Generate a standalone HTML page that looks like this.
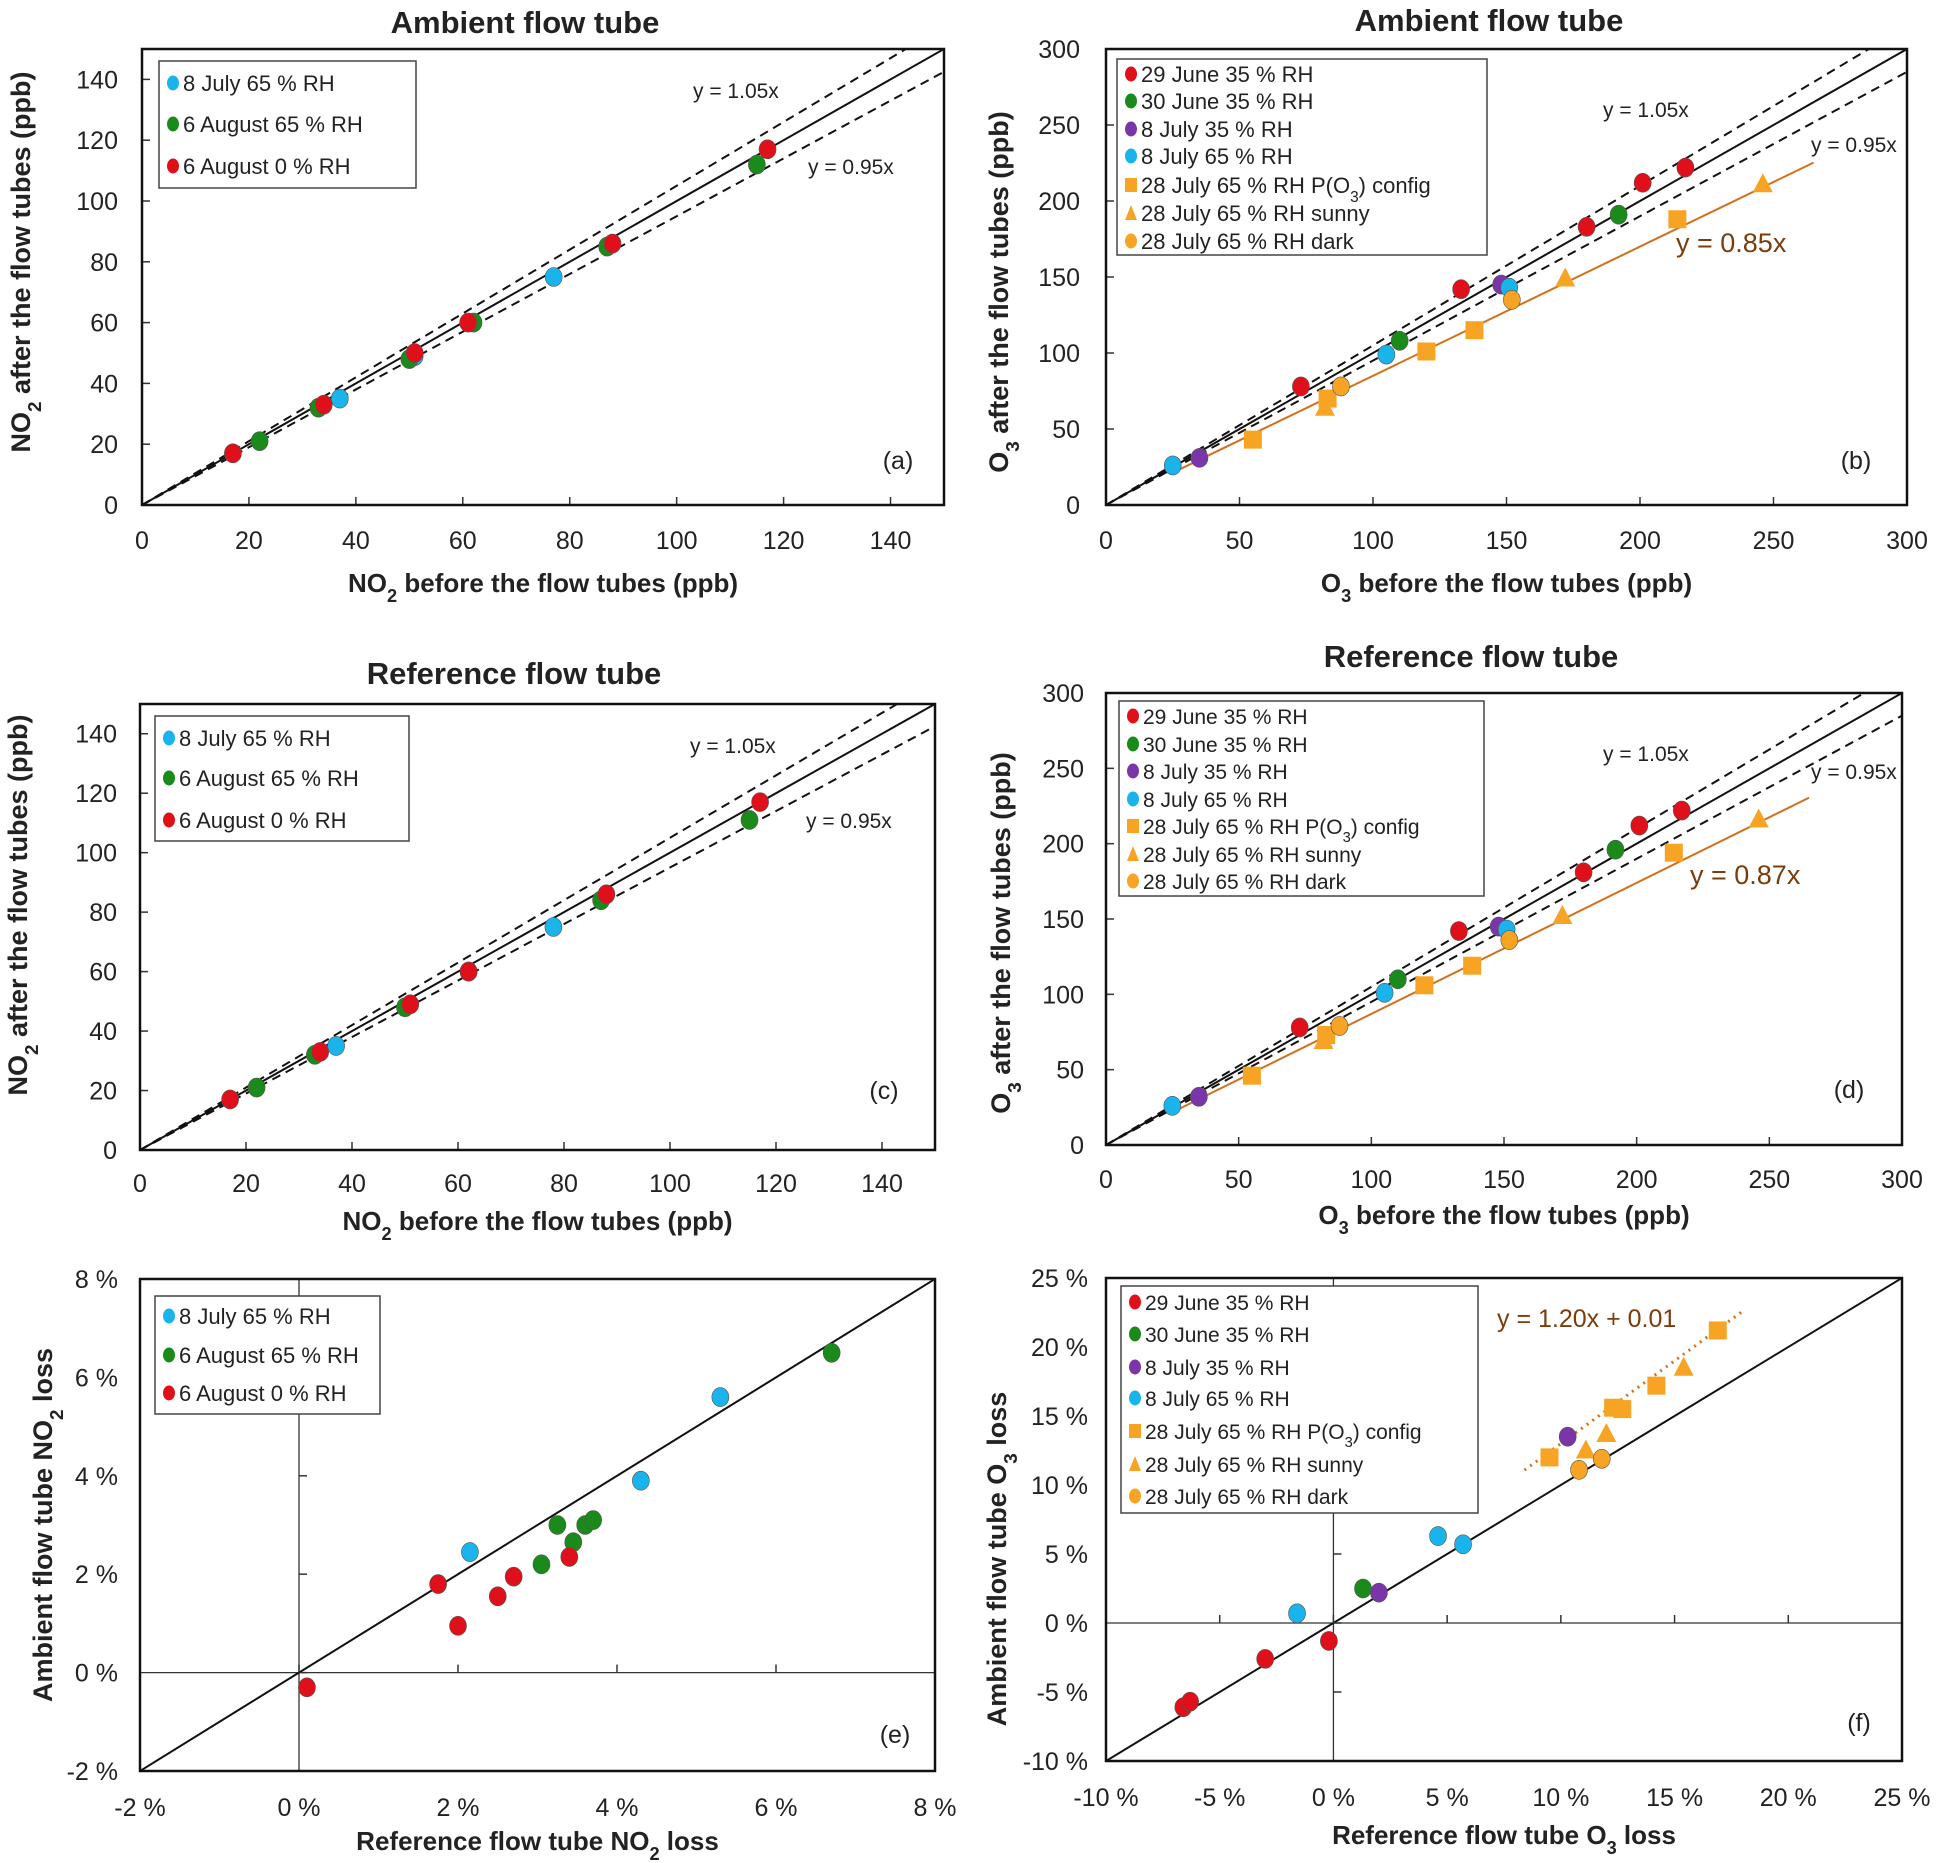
<!DOCTYPE html>
<html><head><meta charset="utf-8"><style>
html,body{margin:0;padding:0;background:#fff;}
svg{display:block;font-family:"Liberation Sans",Arial,sans-serif;}
</style></head><body>
<svg id="fig" width="1939" height="1863" viewBox="0 0 1939 1863" xmlns="http://www.w3.org/2000/svg"></svg>
<script>
// ---------- DATA ----------
// Panel a (Ambient NO2)
const aBlueX=[37,51,77], aBlueY=[35,49,75];
const aGreenX=[22,33,50,62,87,115], aGreenY=[21,32,48,60,85,112];
const aRedX=[17,34,51,61,88,117], aRedY=[17,33,50,60,86,117];
// Panel c (Reference NO2)
const cBlueX=[37,78], cBlueY=[35,75];
const cGreenX=[22,33,50,62,87,115], cGreenY=[21,32,48,60,84,111];
const cRedX=[17,34,51,62,88,117], cRedY=[17,33,49,60,86,117];
// Panel b (Ambient O3)
const bRedX=[73,133,180,201,217], bRedY=[78,142,183,212,222];
const bGreenX=[110,192], bGreenY=[108,191];
const bPurpleX=[35,148], bPurpleY=[31,145];
const bBlueX=[25,105,151], bBlueY=[26,99,143];
const bSqX=[55,83,120,138,214], bSqY=[43,70,101,115,188];
const bTriX=[82,172,246], bTriY=[64,149,211];
const bOrX=[88,152], bOrY=[78,135];
const bSlope=0.85;
// Panel d (Reference O3)
const dRedX=[73,133,180,201,217], dRedY=[78,142,181,212,222];
const dGreenX=[110,192], dGreenY=[110,196];
const dPurpleX=[35,148], dPurpleY=[32,145];
const dBlueX=[25,105,151], dBlueY=[26,101,143];
const dSqX=[55,83,120,138,214], dSqY=[46,73,106,119,194];
const dTriX=[82,172,246], dTriY=[69,152,216];
const dOrX=[88,152], dOrY=[79,136];
const dSlope=0.87;
// Panel e (NO2 loss %)
const eRedX=[0.1,1.75,2.0,2.5,2.7,3.4], eRedY=[-0.3,1.8,0.95,1.55,1.95,2.35];
const eGreenX=[3.05,3.25,3.45,3.6,3.7,6.7], eGreenY=[2.2,3.0,2.65,3.0,3.1,6.5];
const eBlueX=[2.15,4.3,5.3], eBlueY=[2.45,3.9,5.6];
// Panel f (O3 loss %)
const fRedX=[-6.6,-6.3,-3.0,-0.2], fRedY=[-6.1,-5.7,-2.6,-1.3];
const fGreenX=[1.3], fGreenY=[2.5];
const fPurpleX=[2.0,10.3], fPurpleY=[2.2,13.5];
const fBlueX=[-1.6,4.6,5.7], fBlueY=[0.7,6.3,5.7];
const fSqX=[9.5,12.3,12.7,14.2,16.9], fSqY=[12.0,15.6,15.5,17.2,21.2];
const fTriX=[11.1,12.0,15.4], fTriY=[12.5,13.7,18.5];
const fOrX=[10.8,11.8], fOrY=[11.1,11.9];
const fFitSlope=1.20, fFitIcept=1.0;
// tick labels
const no2Ticks=[0,20,40,60,80,100,120,140];
const o3Ticks=[0,50,100,150,200,250,300];
const eTicks=[-2,0,2,4,6,8];
const fTicks=[-10,-5,0,5,10,15,20,25];

// ---------- DRAWING ----------
const NS="http://www.w3.org/2000/svg";
const svg=document.getElementById('fig');
const C={red:'#e0101a',green:'#1a8a1a',blue:'#19b4ec',purple:'#7a35a8',orange:'#f7a425',line:'#d2701c',brown:'#7b3c0c'};
function el(tag,attrs,parent){const e=document.createElementNS(NS,tag);for(const k in attrs)e.setAttribute(k,attrs[k]);(parent||svg).appendChild(e);return e;}
function txt(str,x,y,size,attrs,parent){const t=el('text',Object.assign({x:x,y:y,'font-size':size,fill:'#222'},attrs||{}),parent);t.textContent=str;return t;}

function makePanel(p){
  const g=el('g',{});
  
  
  const sx=v=>p.L+(v-p.min)/(p.max-p.min)*(p.R-p.L);
  const sy=v=>p.B-(v-p.min)/(p.max-p.min)*(p.B-p.T);
  const cid='clip'+p.name;
  const cp=el('clipPath',{id:cid},g);el('rect',{x:p.L,y:p.T,width:p.R-p.L,height:p.B-p.T},cp);
  const inner=el('g',{'clip-path':'url(#'+cid+')'},g);
  if(p.cross){
    const zx=el('line',{x1:sx(0),x2:sx(0),y1:p.T,y2:p.B,stroke:'#333','stroke-width':1.3},inner);
    
    const zy=el('line',{x1:p.L,x2:p.R,y1:sy(0),y2:sy(0),stroke:'#333','stroke-width':1.3},inner);
    
  }
  p.ticks.forEach(v=>{
    const ay=p.cross?sy(0):p.B, ax=p.cross?sx(0):p.L;
    el('line',{x1:sx(v),x2:sx(v),y1:ay,y2:ay-8,stroke:'#333','stroke-width':1.5},g);
    el('line',{x1:ax,x2:ax+8,y1:sy(v),y2:sy(v),stroke:'#333','stroke-width':1.5},g);
    const xl=txt(p.fmt(v),sx(v),p.xTickY,25,{'text-anchor':'middle'},g);
    
    const yl=txt(p.fmt(v),p.yTickR,sy(v)+9,25,{'text-anchor':'end'},g);
    
  });
  const lines=p.lines||[];
  lines.forEach(ln=>{
    const l=el('line',{x1:sx(ln.x0),y1:sy(ln.a*ln.x0+ln.b),x2:sx(ln.x1),y2:sy(ln.a*ln.x1+ln.b),stroke:ln.c,'stroke-width':ln.w||2,'stroke-dasharray':ln.dash||'none'},inner);
    
  });
  p.series.forEach(s=>{
    s.x.forEach((xv,i)=>{
      const X=sx(xv),Y=sy(s.y[i]);let m;
      if(s.shape==='sq') m=el('rect',{x:X-9,y:Y-9,width:18,height:18,fill:s.c},g);
      else if(s.shape==='tri') m=el('polygon',{points:`${X},${Y-11} ${X-10},${Y+8} ${X+10},${Y+8}`,fill:s.c},g);
      else m=el('ellipse',{cx:X,cy:Y,rx:8.5,ry:9.5,fill:s.c,stroke:'#555','stroke-width':0.6},g);
      
      
    });
  });
  const box=el('rect',{x:p.L,y:p.T,width:p.R-p.L,height:p.B-p.T,fill:'none',stroke:'#111','stroke-width':2.5},g);
  
  const lg=el('g',{},g);
  
  el('rect',{x:p.leg.x,y:p.leg.y,width:p.leg.w,height:p.leg.h,fill:'#fff',stroke:'#444','stroke-width':1.5},lg);
  p.leg.items.forEach((it,i)=>{
    const y=p.leg.ys[i], mx=p.leg.x+14;
    const eg=el('g',{},lg);
    
    if(it.shape==='sq') el('rect',{x:mx-6,y:y-7,width:12,height:14,fill:it.c},eg);
    else if(it.shape==='tri') el('polygon',{points:`${mx},${y-8} ${mx-6},${y+7} ${mx+6},${y+7}`,fill:it.c},eg);
    else el('ellipse',{cx:mx,cy:y,rx:6,ry:7.5,fill:it.c},eg);
    const t=txt('',mx+10,y+8,p.leg.fs,{},eg);
    t.innerHTML=it.label;
  });
  if(p.title){const t=txt(p.title,p.titleX,p.titleY,31,{'text-anchor':'middle','font-weight':'bold'},g);}
  const xt=txt('',(p.L+p.R)/2,p.xTitleY,26,{'text-anchor':'middle','font-weight':'bold'},g);xt.innerHTML=p.xTitle;
  
  const yt=txt('',0,0,27,{'text-anchor':'middle','font-weight':'bold','transform':`translate(${p.yTitleX},${p.yTitleCY}) rotate(-90)`},g);yt.innerHTML=p.yTitle;
  
  const pl=txt(p.letter,p.letterX,p.letterY,25,{'text-anchor':'middle'},g);
  
  (p.notes||[]).forEach(n=>{const t=txt(n.t,n.x,n.y,n.s,{fill:n.c||'#222'},g);});
}
const sub=s=>`<tspan baseline-shift="sub" font-size="70%">${s}</tspan>`;
const no2Leg=[{c:C.blue,label:'8 July 65 % RH'},{c:C.green,label:'6 August 65 % RH'},{c:C.red,label:'6 August 0 % RH'}];
const o3Leg=[{c:C.red,label:'29 June 35 % RH'},{c:C.green,label:'30 June 35 % RH'},{c:C.purple,label:'8 July 35 % RH'},{c:C.blue,label:'8 July 65 % RH'},{c:C.orange,shape:'sq',label:'28 July 65 % RH P(O'+sub('3')+') config'},{c:C.orange,shape:'tri',label:'28 July 65 % RH sunny'},{c:C.orange,label:'28 July 65 % RH dark'}];
const stdLines=(mx)=>[{name:'one-to-one-line',a:1,b:0,x0:0,x1:mx,c:'#111',w:2},{name:'upper-5pct-line',a:1.05,b:0,x0:0,x1:mx,c:'#111',w:2,dash:'9,6'},{name:'lower-5pct-line',a:0.95,b:0,x0:0,x1:mx,c:'#111',w:2,dash:'9,6'}];
const no2Series=(bx,by,gx,gy,rx,ry)=>[{name:'8-july-65rh',c:C.blue,x:bx,y:by},{name:'6-aug-65rh',c:C.green,x:gx,y:gy},{name:'6-aug-0rh',c:C.red,x:rx,y:ry}];
const o3Series=(o)=>[{name:'29-june-35rh',c:C.red,x:o.rx,y:o.ry},{name:'30-june-35rh',c:C.green,x:o.gx,y:o.gy},{name:'8-july-35rh',c:C.purple,x:o.px,y:o.py},{name:'8-july-65rh',c:C.blue,x:o.bx,y:o.by},{name:'28-july-config',c:C.orange,shape:'sq',x:o.sx,y:o.sy},{name:'28-july-sunny',c:C.orange,shape:'tri',x:o.tx,y:o.ty},{name:'28-july-dark',c:C.orange,x:o.ox,y:o.oy}];
const fmtPct=v=>v+' %';

makePanel({name:'panel-a',L:142,R:944,T:49,B:505,min:0,max:150,ticks:no2Ticks,fmt:v=>''+v,xTickY:549,yTickR:118,
  lines:stdLines(150),series:no2Series(aBlueX,aBlueY,aGreenX,aGreenY,aRedX,aRedY),
  leg:{x:159,y:61,w:257,h:127,fs:22,ys:[83,124,166],items:no2Leg},
  title:'Ambient flow tube',titleX:525,titleY:33,xTitle:'NO'+sub('2')+' before the flow tubes (ppb)',xTitleY:592,
  yTitle:'NO'+sub('2')+' after the flow tubes (ppb)',yTitleX:30,yTitleCY:262,letter:'(a)',letterX:898,letterY:469,
  notes:[{t:'y = 1.05x',x:693,y:98,s:21},{t:'y = 0.95x',x:808,y:174,s:21}]});

makePanel({name:'panel-b',L:1106,R:1907,T:49,B:505,min:0,max:300,ticks:o3Ticks,fmt:v=>''+v,xTickY:549,yTickR:1080,
  lines:stdLines(300).concat([{name:'fit-line-085',a:bSlope,b:0,x0:25,x1:265,c:C.line,w:2}]),
  series:o3Series({rx:bRedX,ry:bRedY,gx:bGreenX,gy:bGreenY,px:bPurpleX,py:bPurpleY,bx:bBlueX,by:bBlueY,sx:bSqX,sy:bSqY,tx:bTriX,ty:bTriY,ox:bOrX,oy:bOrY}),
  leg:{x:1117,y:59,w:370,h:196,fs:22,ys:[74,101,129,156,185,213,241],items:o3Leg},
  title:'Ambient flow tube',titleX:1489,titleY:31,xTitle:'O'+sub('3')+' before the flow tubes (ppb)',xTitleY:592,
  yTitle:'O'+sub('3')+' after the flow tubes (ppb)',yTitleX:1008,yTitleCY:292,letter:'(b)',letterX:1856,letterY:469,
  notes:[{t:'y = 1.05x',x:1603,y:117,s:21},{t:'y = 0.95x',x:1811,y:152,s:21},{t:'y = 0.85x',x:1676,y:252,s:27,c:C.brown}]});

makePanel({name:'panel-c',L:140,R:935,T:704,B:1150,min:0,max:150,ticks:no2Ticks,fmt:v=>''+v,xTickY:1192,yTickR:117,
  lines:stdLines(150),series:no2Series(cBlueX,cBlueY,cGreenX,cGreenY,cRedX,cRedY),
  leg:{x:155,y:716,w:254,h:125,fs:22,ys:[738,778,820],items:no2Leg},
  title:'Reference flow tube',titleX:514,titleY:684,xTitle:'NO'+sub('2')+' before the flow tubes (ppb)',xTitleY:1230,
  yTitle:'NO'+sub('2')+' after the flow tubes (ppb)',yTitleX:27,yTitleCY:905,letter:'(c)',letterX:884,letterY:1099,
  notes:[{t:'y = 1.05x',x:690,y:753,s:21},{t:'y = 0.95x',x:806,y:828,s:21}]});

makePanel({name:'panel-d',L:1106,R:1902,T:693,B:1145,min:0,max:300,ticks:o3Ticks,fmt:v=>''+v,xTickY:1188,yTickR:1084,
  lines:stdLines(300).concat([{name:'fit-line-087',a:dSlope,b:0,x0:25,x1:265,c:C.line,w:2}]),
  series:o3Series({rx:dRedX,ry:dRedY,gx:dGreenX,gy:dGreenY,px:dPurpleX,py:dPurpleY,bx:dBlueX,by:dBlueY,sx:dSqX,sy:dSqY,tx:dTriX,ty:dTriY,ox:dOrX,oy:dOrY}),
  leg:{x:1119,y:701,w:365,h:195,fs:21,ys:[716,744,771,799,826,854,881],items:o3Leg},
  title:'Reference flow tube',titleX:1471,titleY:667,xTitle:'O'+sub('3')+' before the flow tubes (ppb)',xTitleY:1224,
  yTitle:'O'+sub('3')+' after the flow tubes (ppb)',yTitleX:1010,yTitleCY:933,letter:'(d)',letterX:1849,letterY:1098,
  notes:[{t:'y = 1.05x',x:1603,y:761,s:21},{t:'y = 0.95x',x:1811,y:779,s:21},{t:'y = 0.87x',x:1690,y:884,s:27,c:C.brown}]});

makePanel({name:'panel-e',L:140,R:935,T:1279,B:1771,min:-2,max:8,ticks:eTicks,fmt:fmtPct,xTickY:1816,yTickR:118,cross:true,
  lines:[{name:'one-to-one-line',a:1,b:0,x0:-2,x1:8,c:'#111',w:2}],
  series:no2Series(eBlueX,eBlueY,eGreenX,eGreenY,eRedX,eRedY),
  leg:{x:155,y:1296,w:225,h:118,fs:22,ys:[1316,1355,1393],items:no2Leg},
  xTitle:'Reference flow tube NO'+sub('2')+' loss',xTitleY:1850,
  yTitle:'Ambient flow tube NO'+sub('2')+' loss',yTitleX:52,yTitleCY:1525,letter:'(e)',letterX:895,letterY:1743});

makePanel({name:'panel-f',L:1106,R:1902,T:1278,B:1761,min:-10,max:25,ticks:fTicks,fmt:fmtPct,xTickY:1806,yTickR:1088,cross:true,
  lines:[{name:'one-to-one-line',a:1,b:0,x0:-10,x1:25,c:'#111',w:2},{name:'fit-line-dotted',a:fFitSlope,b:fFitIcept,x0:8.4,x1:18,c:C.line,w:3,dash:'2,5'}],
  series:o3Series({rx:fRedX,ry:fRedY,gx:fGreenX,gy:fGreenY,px:fPurpleX,py:fPurpleY,bx:fBlueX,by:fBlueY,sx:fSqX,sy:fSqY,tx:fTriX,ty:fTriY,ox:fOrX,oy:fOrY}),
  leg:{x:1121,y:1286,w:357,h:227,fs:21,ys:[1302,1334,1367,1398,1431,1464,1496],items:o3Leg},
  xTitle:'Reference flow tube O'+sub('3')+' loss',xTitleY:1844,
  yTitle:'Ambient flow tube O'+sub('3')+' loss',yTitleX:1006,yTitleCY:1559,letter:'(f)',letterX:1859,letterY:1731,
  notes:[{t:'y = 1.20x + 0.01',x:1497,y:1327,s:25,c:C.brown}]});
</script>
</body></html>
